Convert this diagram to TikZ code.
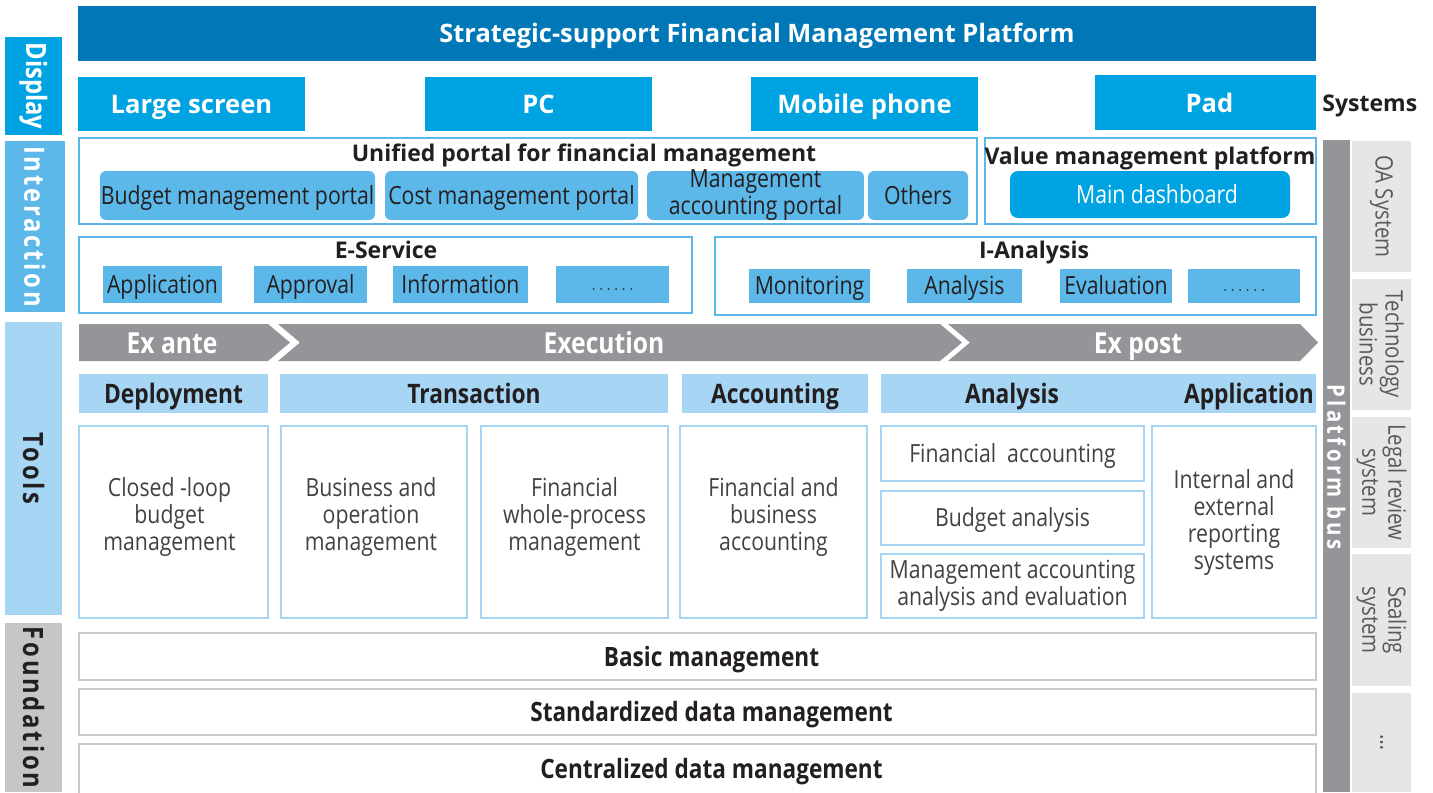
\documentclass[tikz,border=0pt]{standalone}
\usepackage{fontspec}
\setmainfont{Open Sans}
\newfontfamily\condfont[FakeStretch=0.85]{Open Sans}
\usetikzlibrary{fit}
\definecolor{dkblue}{HTML}{0078B8}
\definecolor{midblue}{HTML}{00A3E1}
\definecolor{skyblue}{HTML}{5CB8E9}
\definecolor{paleblue}{HTML}{A6D6F4}
\definecolor{bargray}{HTML}{939598}
\definecolor{fndgray}{HTML}{C5C6C8}
\definecolor{linegray}{HTML}{C8C9CA}
\definecolor{sysgray}{HTML}{E5E6E6}
\definecolor{inkblack}{HTML}{231F20}
\definecolor{inkgray}{HTML}{58595B}
\newcommand{\moredots}{\fontsize{8.5}{10}\selectfont$\cdots\cdots$}
\tikzset{
  plain/.style={inner sep=0pt},
  oneline/.style={text height=#1, text depth=0pt},
  titlebar/.style={plain, fill=dkblue},
  titletext/.style={plain, oneline=9.1pt, text=white, font=\bfseries\fontsize{12.7}{15}\selectfont},
  dispbox/.style={plain, fill=midblue},
  disptext/.style={plain, oneline=9.1pt, text=white, font=\bfseries\fontsize{12.8}{15}\selectfont},
  layertext/.style={plain, rotate=-90, font=\condfont\bfseries\fontsize{14}{16}\selectfont\addfontfeature{LetterSpace=10}},
  groupbox/.style={plain, draw=skyblue, line width=1pt, fill=white},
  grouptitle/.style={plain, oneline=8.2pt, text=inkblack, font=\bfseries\fontsize{11.5}{13}\selectfont},
  portalbox/.style={plain, fill=skyblue, rounded corners=3pt},
  itembox/.style={plain, fill=skyblue},
  itemtext/.style={plain, oneline=8.9pt, text=inkblack, font=\condfont\fontsize{12.5}{12}\selectfont},
  twolines/.style={plain, align=center, text=inkblack, font=\condfont\fontsize{12.5}{12}\selectfont},
  dashbox/.style={plain, fill=midblue, rounded corners=4pt},
  phasetext/.style={plain, oneline=10.4pt, text=white, font=\condfont\bfseries\fontsize{14.5}{16}\selectfont},
  headbox/.style={plain, fill=paleblue},
  headtext/.style={plain, oneline=9.6pt, text=inkblack, font=\condfont\bfseries\fontsize{13.4}{15}\selectfont},
  cellbox/.style={plain, draw=paleblue, line width=1pt, fill=white},
  celltext/.style={plain, align=center, text=inkblack!85, font=\condfont\fontsize{12.5}{13.5}\selectfont},
  fndbox/.style={plain, draw=linegray, line width=1pt, fill=white},
  fndtext/.style={plain, oneline=9.5pt, xshift=7pt, text=inkblack, font=\condfont\bfseries\fontsize{13.3}{15}\selectfont},
  busbox/.style={plain, fill=bargray},
  bustext/.style={plain, rotate=-90, text=white, font=\condfont\bfseries\fontsize{12}{14}\selectfont\addfontfeature{LetterSpace=14}},
  sysbox/.style={plain, fill=sysgray},
  systext/.style={plain, rotate=-90, align=center, text=inkgray, font=\condfont\fontsize{12}{13}\selectfont},
}

\begin{document}
\begin{tikzpicture}[x=0.5pt, y=-0.5pt]
\useasboundingbox (0,0) rectangle (1433,792);

%% Title
\node[titlebar, fit={(78,6) (1316,61)},
  label={[titletext, xshift=30pt]center:Strategic-support Financial Management Platform}] (title) {};

%% Display layer
\node[plain, fill=midblue, fit={(5,37) (62,135)},
  label={[layertext, text=white, font=\condfont\bfseries\fontsize{14}{16}\selectfont]center:Display}] (dlay) {};
\node[dispbox, fit={(78,77) (305,131)}, label={[disptext]center:Large screen}] (large) {};
\node[dispbox, fit={(425,77) (652,131)}, label={[disptext]center:PC}] (pc) {};
\node[dispbox, fit={(751,77) (978,131)}, label={[disptext]center:Mobile phone}] (mobile) {};
\node[dispbox, fit={(1095,75) (1316,130)}, label={[disptext, xshift=2pt, yshift=-0.5pt]center:Pad}] (pad) {};
\node[grouptitle, anchor=west] (sys) at (1322,103) {Systems};

%% Interaction layer
\node[plain, fill=skyblue, fit={(5,141) (65,312)},
  label={[layertext, text=white]center:Interaction}] (ilay) {};
% unified portal
\node[groupbox, fit={(79,138) (977,224)}] (portal) {};
\node[grouptitle] (portalt) at (584,153) {Unified portal for financial management};
\node[portalbox, fit={(100,171) (375,220)}, label={[itemtext]center:Budget management portal}] (bport) {};
\node[portalbox, fit={(385,171) (638,220)}, label={[itemtext]center:Cost management portal}] (cport) {};
\node[portalbox, fit={(647,171) (864,220)}, label={[twolines]center:{Management\\accounting portal}}] (mport) {};
\node[portalbox, fit={(868,171) (968,220)}, label={[itemtext]center:Others}] (oport) {};
% value platform
\node[groupbox, fit={(985,138) (1316,224)}] (value) {};
\node[grouptitle] (valuet) at (1150,156) {Value management platform};
\node[dashbox, fit={(1010,171) (1290,218)},
  label={[itemtext, text=white, xshift=3.5pt]center:Main dashboard}] (dash) {};
% e-service
\node[groupbox, fit={(79,237) (692,313)}] (eserv) {};
\node[grouptitle] (eservt) at (386,250) {E-Service};
\node[itembox, fit={(103,266) (222,303)}, label={[itemtext]center:Application}] (appl) {};
\node[itembox, fit={(254,266) (367,303)}, label={[itemtext]center:Approval}] (appr) {};
\node[itembox, fit={(393,266) (528,303)}, label={[itemtext]center:Information}] (info) {};
\node[itembox, fit={(556,266) (669,303)}, label={[itemtext]center:\moredots}] (emore) {};
% i-analysis
\node[groupbox, fit={(715,237) (1316,315)}] (ianal) {};
\node[grouptitle] (ianalt) at (1034,250) {I-Analysis};
\node[itembox, fit={(749,269) (870,303)}, label={[itemtext]center:Monitoring}] (moni) {};
\node[itembox, fit={(907,269) (1022,303)}, label={[itemtext]center:Analysis}] (anal) {};
\node[itembox, fit={(1060,269) (1172,303)}, label={[itemtext]center:Evaluation}] (eval) {};
\node[itembox, fit={(1188,269) (1300,303)}, label={[itemtext]center:\moredots}] (imore) {};

%% Tools layer
\node[plain, fill=paleblue, fit={(5,322) (62,615)},
  label={[layertext, text=inkblack]center:Tools}] (tlay) {};
% phase chevrons
\fill[bargray] (79,324) -- (268,324) -- (290,342.5) -- (268,361) -- (79,361) -- cycle;
\fill[bargray] (278,324) -- (940,324) -- (962,342.5) -- (940,361) -- (278,361) -- (300,342.5) -- cycle;
\fill[bargray] (948,324) -- (1300,324) -- (1318,342.5) -- (1300,361) -- (948,361) -- (970,342.5) -- cycle;
\node[phasetext] (exante) at (172,343) {Ex ante};
\node[phasetext] (exec) at (604,343) {Execution};
\node[phasetext] (expost) at (1138,343) {Ex post};
% headers
\node[headbox, fit={(79,374) (268,413)}, label={[headtext]center:Deployment}] (dep) {};
\node[headbox, fit={(280,374) (668,413)}, label={[headtext]center:Transaction}] (trans) {};
\node[headbox, fit={(682,374) (868,413)}, label={[headtext]center:Accounting}] (acc) {};
\node[headbox, fit={(881,374) (1316,413)}] (anap) {};
\node[headtext] (anat) at (1012,393.5) {Analysis};
\node[headtext] (appt) at (1249,393.5) {Application};
% cells
\node[cellbox, fit={(79,426) (268,618)},
  label={[celltext, yshift=2.5pt, xshift=-2pt]center:{Closed -loop\\budget\\management}}] (closed) {};
\node[cellbox, fit={(281,426) (467,618)},
  label={[celltext, yshift=2.5pt, xshift=-1.5pt]center:{Business and\\operation\\management}}] (busop) {};
\node[cellbox, fit={(481,426) (668,618)},
  label={[celltext, yshift=2.5pt]center:{Financial\\whole-process\\management}}] (whole) {};
\node[cellbox, fit={(680,426) (867,618)},
  label={[celltext, yshift=2.5pt]center:{Financial and\\business\\accounting}}] (fbacc) {};
\node[cellbox, fit={(881,426) (1144,481)}, label={[celltext, oneline=8.9pt]center:Financial~ accounting}] (facc) {};
\node[cellbox, fit={(881,491) (1144,545)}, label={[celltext, oneline=8.9pt]center:Budget analysis}] (banal) {};
\node[cellbox, fit={(881,554) (1144,618)},
  label={[celltext]center:{Management accounting\\analysis and evaluation}}] (manal) {};
\node[cellbox, fit={(1152,426) (1316,618)},
  label={[celltext]center:{Internal and\\external\\reporting\\systems}}] (report) {};

%% Foundation layer
\node[plain, fill=fndgray, fit={(5,623) (62,792)},
  label={[layertext, text=inkblack]center:Foundation}] (flay) {};
\node[fndbox, fit={(79,633) (1316,680)}, label={[fndtext]center:Basic management}] (basic) {};
\node[fndbox, fit={(79,689) (1316,735)}, label={[fndtext]center:Standardized data management}] (stand) {};
\node[fndbox, fit={(79,744) (1316,794)}, label={[fndtext]center:Centralized data management}] (central) {};

%% Platform bus and other systems
\node[busbox, fit={(1323,140) (1350,792)}] (bus) {};
\node[bustext] at (1336.5,467) {Platform bus};
\foreach \nm/\ya/\yb/\txt in {oa/141/272/{OA System}, tech/279/410/{Technology\\business},
    legal/417/548/{Legal review\\system}, seal/554/686/{Sealing\\system}, more/693/792/{\ldots}}{
  \node[sysbox, fit={(1352,\ya) (1411,\yb)}] (\nm) {};
  \node[systext] at (\nm) {\txt};
}

\end{tikzpicture}
\end{document}
